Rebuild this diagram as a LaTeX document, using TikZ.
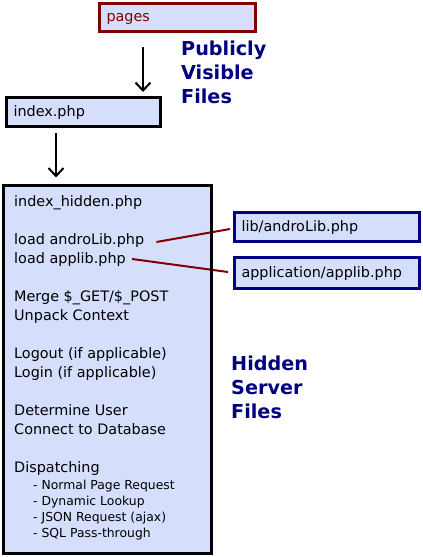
\documentclass[tikz,border=0pt]{standalone}
\usepackage{fontspec}
\setmainfont{DejaVu Sans}
\usetikzlibrary{arrows.meta,calc,positioning}
\definecolor{paleblue}{RGB}{213,223,252}
\definecolor{darkred}{RGB}{128,0,0}
\definecolor{navyblue}{RGB}{0,0,128}
\tikzset{
  fichero/.style={
    draw=black,
    line width=3pt,
    fill=paleblue,
    align=left,
    inner xsep=7pt,
    inner ysep=0pt,
    text height=11pt,
    text depth=3pt,
    anchor=north west,
    font=\fontsize{14.4}{19}\selectfont
  },
  marco/.style={
    draw=black,
    line width=3pt
  },
  linea/.style={
    anchor=base west,
    inner sep=0pt,
    font=\fontsize{14.4}{19}\selectfont
  },
  sublinea/.style={
    anchor=base west,
    inner sep=0pt,
    font=\fontsize{12.4}{16}\selectfont
  },
  titulo/.style={
    anchor=north west,
    align=left,
    inner sep=0pt,
    text=navyblue,
    font=\bfseries\fontsize{19.2}{24}\selectfont
  },
  arrow/.style={
    -{Straight Barb[length=8pt,width=15pt]},
    line width=2pt
  },
  enlace/.style={
    line width=2pt,
    draw=darkred
  }
}

\begin{document}
\begin{tikzpicture}[x=1pt,y=-1pt]
\useasboundingbox (0,0) rectangle (423,557);
% public part
\node[fichero, draw=darkred, text=darkred, text width=142pt, minimum height=28pt] (pages) at (98,2) {pages};
\node[fichero, text width=140pt, minimum height=29pt] (index) at (5,96) {index.php};
\node[titulo] (publico) at (181,41) {Publicly\\Visible\\Files};
% hidden part
\node[fichero, draw=none, outer sep=0pt, minimum width=208pt, minimum height=368pt] (hidden) at (3.5,185.5) {};
\node[linea] (hidtitle) at (14,206) {index\_hidden.php};
\node[linea] (loadandro) at (14,244) {load androLib.php};
\node[linea] (loadapp) at (14,263) {load applib.php};
\node[linea] (merge) at (14,301) {Merge \$\_GET/\$\_POST};
\node[linea] (unpack) at (14,320) {Unpack Context};
\node[linea] (logout) at (14,358) {Logout (if applicable)};
\node[linea] (login) at (14,377) {Login (if applicable)};
\node[linea] (user) at (14,415) {Determine User};
\node[linea] (connect) at (14,434) {Connect to Database};
\node[linea] (dispatch) at (14,472) {Dispatching};
\node[sublinea] (normal) at (33,489) {- Normal Page Request};
\node[sublinea] (dynamic) at (33,505) {- Dynamic Lookup};
\node[sublinea] (json) at (33,521) {- JSON Request (ajax)};
\node[sublinea] (sql) at (33,537) {- SQL Pass-through};
\node[titulo] (oculto) at (231,356) {Hidden\\Server\\Files};
% libraries
\node[fichero, draw=navyblue, text width=171pt, minimum height=29pt] (andro) at (233,211) {lib/androLib.php};
\node[fichero, draw=navyblue, text width=171pt, minimum height=31pt] (applib) at (233,256) {application/applib.php};
% arrows and links
\coordinate (pagesout) at (143,47);
\coordinate (indexout) at (56,133);
\draw[arrow, shorten >=4pt] (pagesout) -- (pagesout |- index.north);
\draw[arrow, shorten >=8pt] (indexout) -- (indexout |- hidden.north);
\draw[enlace] ([shift={(12,-2)}]loadandro.base east) -- ([shift={(-3,2)}]andro.west);
\draw[enlace] ([shift={(6,-4)}]loadapp.base east) -- ([shift={(-5,-1)}]applib.west);
% border over the links
\draw[marco] (hidden.north west) rectangle (hidden.south east);
\end{tikzpicture}
\end{document}
